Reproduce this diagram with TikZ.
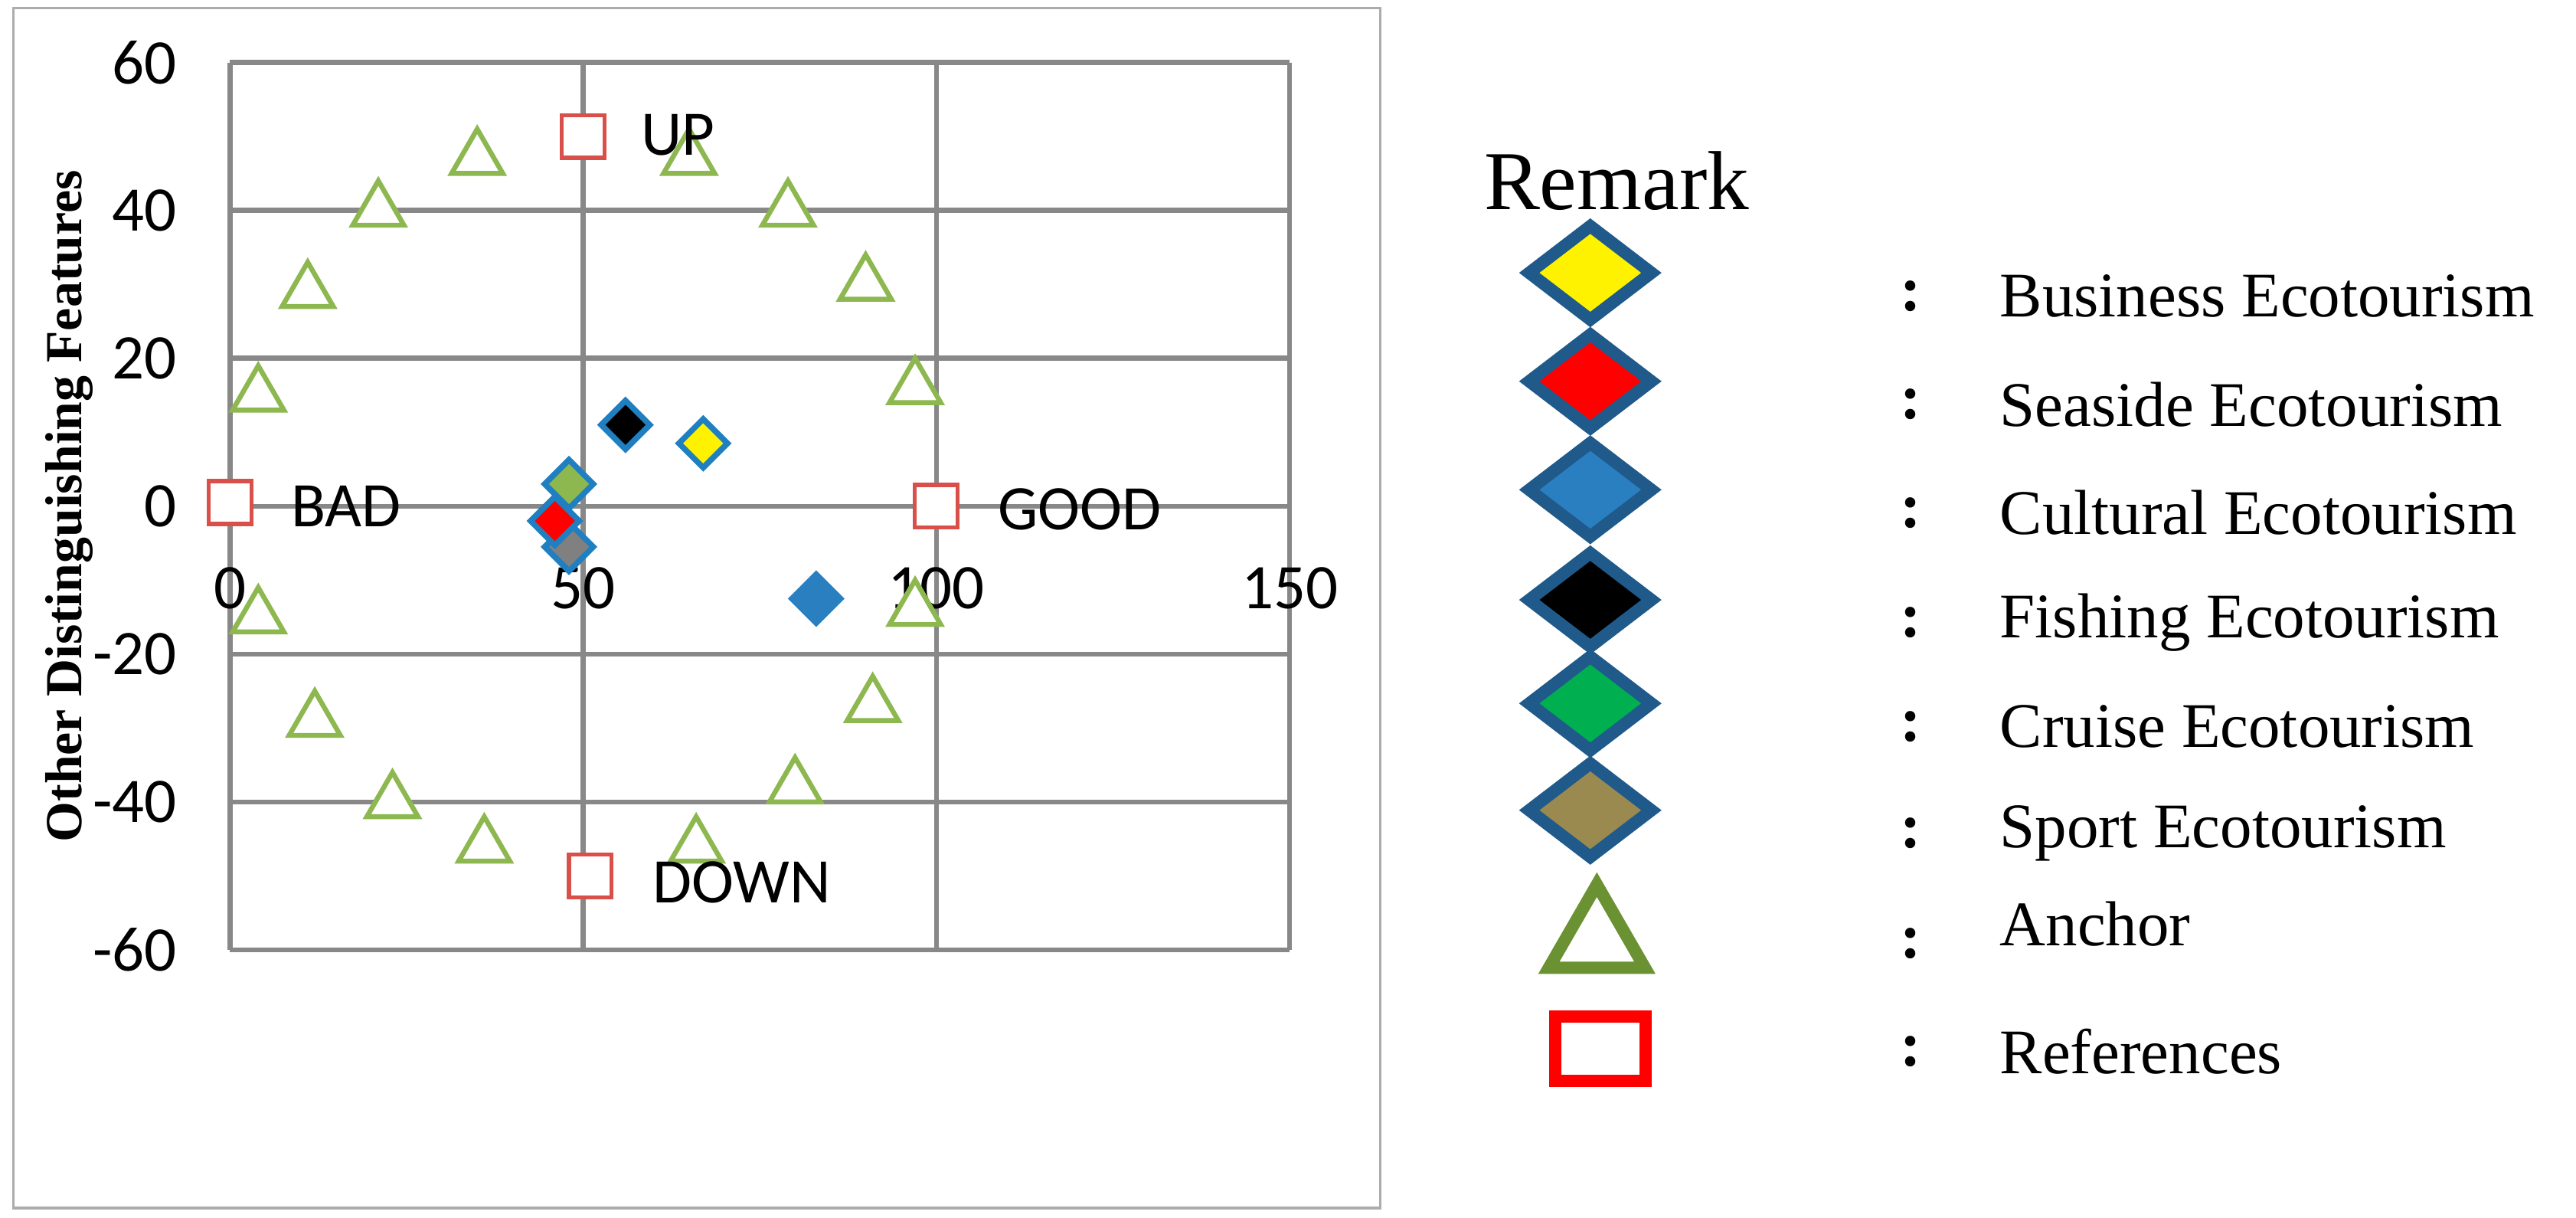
\documentclass[tikz,border=0pt]{standalone}
\usepackage{fontspec}
\setmainfont{Liberation Serif}
\newfontfamily\carfont{Carlito}
\usetikzlibrary{shapes.geometric}
\definecolor{gridc}{HTML}{888888}
\definecolor{anc}{HTML}{8DB84F}
\definecolor{refc}{HTML}{D9504A}
\definecolor{dstroke}{HTML}{1F7FC0}
\definecolor{lstroke}{HTML}{1F5A8A}
\definecolor{cblue}{HTML}{2A7FC0}
\definecolor{sport}{HTML}{9A8A50}
\definecolor{cgreen}{HTML}{00B050}
\definecolor{lanc}{HTML}{6A9232}
\tikzset{
 tick/.style={font=\carfont\fontsize{22pt}{24pt}\selectfont, inner sep=0pt},
 lbl/.style={font=\carfont\fontsize{22pt}{24pt}\selectfont, inner sep=0pt, anchor=west},
 tri/.style={regular polygon, regular polygon sides=3, draw=anc, fill=white, line width=0.06cm, minimum size=0.72cm, inner sep=0pt},
 sq/.style={rectangle, draw=refc, fill=white, line width=0.05cm, minimum size=0.52cm, inner sep=0pt},
 pd/.style={diamond, draw=dstroke, line width=0.07cm, minimum size=0.62cm, inner sep=0pt, fill=#1},
 ld/.style={diamond, draw=lstroke, line width=0.15cm, minimum width=1.55cm, minimum height=1.2cm, inner sep=0pt, fill=#1},
 ltxt/.style={font=\fontsize{22pt}{24pt}\selectfont, anchor=west, inner sep=0pt},
 colon/.style={font=\bfseries\fontsize{22pt}{24pt}\selectfont, inner sep=0pt},
}
\begin{document}
\begin{tikzpicture}[x=0.02cm,y=-0.02cm]
\useasboundingbox (0,0) rectangle (1568,741);
\fill[white] (0,0) rectangle (1568,741);
\draw[gridc!70, line width=0.03cm] (8,5) rectangle (840,735);
% grid
\foreach \v in {-60,-40,...,60} \draw[gridc, line width=0.06cm] (140,{308-4.5*\v}) -- (785,{308-4.5*\v});
\foreach \v in {0,50,100,150} \draw[gridc, line width=0.06cm] ({140+4.3*\v},38) -- ({140+4.3*\v},578);
\foreach \v in {-60,-40,...,60} \node[tick, anchor=east] (yt\v) at (108,{308-4.5*\v}) {\v};
\foreach \v in {0,50,100,150} \node[tick] (xt\v) at ({140+4.3*\v},358) {\v};
\node[rotate=90, font=\bfseries\fontsize{18pt}{20pt}\selectfont] (ytitle) at (42,308) {Other Distinguishing Features};
\begin{scope}[shift={(140,308)}, x=0.086cm, y=0.09cm]
 \foreach \a/\b [count=\i] in {4/15,11/29,21/40,35/47,65/47,79/40,90/30,97/16,4/-15,12/-29,23/-40,36/-46,66/-46,80/-38,91/-27,97/-14}
   \node[tri] (t\i) at (\a,\b) {};
 \node[sq] (up) at (50,50) {};
 \node[sq] (bad) at (0,0.5) {};
 \node[sq] (good) at (100,0) {};
 \node[sq] (down) at (51,-50) {};
 \node[pd=black] (fish) at (56,11) {};
 \node[pd=yellow] (bus) at (67,8.5) {};
 \node[pd=anc] (cru) at (48,3) {};
 \node[pd=gray] (spo) at (48,-5.5) {};
 \node[pd=red] (sea) at (46,-2) {};
 \node[pd=cblue, draw=cblue] (cul) at (83,-12.5) {};
\end{scope}
\node[lbl] (upl) at (390,82) {UP};
\node[lbl] (badl) at (177,308) {BAD};
\node[lbl] (goodl) at (607,310) {GOOD};
\node[lbl] (downl) at (397,537) {DOWN};
% legend
\node[font=\fontsize{29pt}{32pt}\selectfont, anchor=west, inner sep=0pt] (rem) at (903,110) {Remark};
\foreach \c/\y/\t [count=\i] in {yellow/166/Business Ecotourism, red/232/Seaside Ecotourism, cblue/298/Cultural Ecotourism, black/365/Fishing Ecotourism, cgreen/428/Cruise Ecotourism, sport/493/Sport Ecotourism}{
  \node[ld=\c] (ld\i) at (968,\y) {};
  \node[colon] (c\i) at (1163,{\y+14}) {:};
  \node[ltxt] (lt\i) at (1217,{\y+14}) {\t};
}
\node[regular polygon, regular polygon sides=3, draw=lanc, line width=0.15cm, minimum size=1.35cm, inner sep=0pt] (lt) at (972,572) {};
\node[colon] (c7) at (1163,574) {:};
\node[ltxt] (lt7) at (1217,562) {Anchor};
\node[rectangle, draw=red, line width=0.15cm, minimum width=1.1cm, minimum height=0.78cm, inner sep=0pt] (lsq) at (974,638) {};
\node[colon] (c8) at (1163,640) {:};
\node[ltxt] (lt8) at (1217,640) {References};
\end{tikzpicture}
\end{document}
